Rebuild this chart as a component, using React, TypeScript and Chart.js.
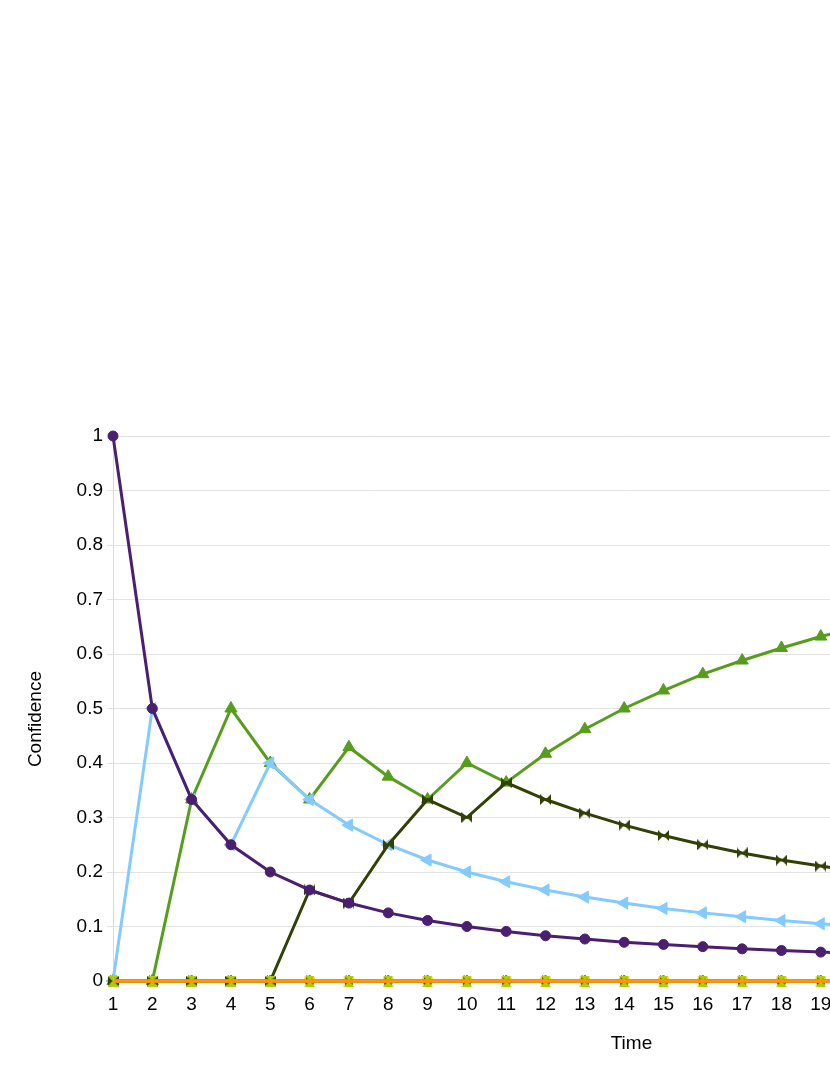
import { useEffect, useRef } from "react";
import { Chart, registerables } from "chart.js";

Chart.register(...registerables);

// Time steps (x values)
const timeSteps = [1, 2, 3, 4, 5, 6, 7, 8, 9, 10, 11, 12, 13, 14, 15, 16, 17, 18, 19, 20];

// Series values
const purpleCircle = [1, 0.5, 0.333, 0.25, 0.2, 0.167, 0.143, 0.125, 0.111, 0.1, 0.091, 0.083, 0.077, 0.071, 0.067, 0.063, 0.059, 0.056, 0.053, 0.05];
const lightBlueArrow = [0, 0.5, 0.333, 0.25, 0.4, 0.333, 0.286, 0.25, 0.222, 0.2, 0.182, 0.167, 0.154, 0.143, 0.133, 0.125, 0.118, 0.111, 0.105, 0.1];
const greenTriangle = [0, 0, 0.333, 0.5, 0.4, 0.333, 0.429, 0.375, 0.333, 0.4, 0.364, 0.417, 0.462, 0.5, 0.533, 0.563, 0.588, 0.611, 0.632, 0.65];
const oliveBowtie = [0, 0, 0, 0, 0, 0.167, 0.143, 0.25, 0.333, 0.3, 0.364, 0.333, 0.308, 0.286, 0.267, 0.25, 0.235, 0.222, 0.211, 0.2];
const zeroSeries = [0, 0, 0, 0, 0, 0, 0, 0, 0, 0, 0, 0, 0, 0, 0, 0, 0, 0, 0, 0];

const FONT = '"Liberation Sans", Arial, sans-serif';
const FONT_SIZE = 19;

function makeMarker(kind: string, color: string, size: number) {
  const c = document.createElement("canvas");
  c.width = size;
  c.height = size;
  const g = c.getContext("2d")!;
  g.fillStyle = color;
  const h = size / 2;
  g.beginPath();
  if (kind === "bowtie") {
    g.moveTo(0, 0);
    g.lineTo(h, h);
    g.lineTo(0, size);
    g.closePath();
    g.moveTo(size, 0);
    g.lineTo(h, h);
    g.lineTo(size, size);
    g.closePath();
  } else {
    g.moveTo(0, 0);
    g.lineTo(size, 0);
    g.lineTo(h, h);
    g.closePath();
    g.moveTo(0, size);
    g.lineTo(size, size);
    g.lineTo(h, h);
    g.closePath();
  }
  g.fill();
  return c;
}

export default function App() {
  const ref = useRef<HTMLCanvasElement>(null);

  useEffect(() => {
    if (!ref.current) return;
    const bowtie = makeMarker("bowtie", "#314004", 11);
    const sandglass = makeMarker("sandglass", "#aecf00", 11);
    const pts = (vals: number[]) => vals.map((v, i) => ({ x: timeSteps[i], y: v }));
    const ds = (label: string, vals: number[], color: string, extra: any) => ({
      label,
      data: pts(vals),
      borderColor: color,
      backgroundColor: color,
      pointBorderColor: color,
      pointBackgroundColor: color,
      borderWidth: 3,
      pointRadius: 5,
      pointBorderWidth: 1,
      tension: 0,
      clip: false,
      ...extra,
    });

    const chart = new Chart(ref.current, {
      type: "line",
      data: {
        datasets: [
          ds("S10", zeroSeries, "#ff950e", { pointRadius: 0, borderWidth: 3.5 }),
          ds("S9", purpleCircle, "#4b1f6f", { pointStyle: "circle", pointRadius: 5 }),
          ds("S8", zeroSeries, "#aecf00", { pointStyle: sandglass }),
          ds("S7", oliveBowtie, "#314004", { pointStyle: bowtie }),
          ds("S6", lightBlueArrow, "#83caff", { pointStyle: "triangle", pointRotation: -90, pointRadius: 7 }),
          ds("S5", zeroSeries, "#7e0021", { pointStyle: "triangle", pointRotation: 90, pointRadius: 6 }),
          ds("S4", greenTriangle, "#579d1c", { pointStyle: "triangle", pointRadius: 7 }),
          ds("S3", zeroSeries, "#ffd320", { pointStyle: "triangle", pointRotation: 180, pointRadius: 6 }),
          ds("S2", zeroSeries, "#ff420e", { pointStyle: "rectRot", pointRadius: 6 }),
          ds("S1", zeroSeries, "#004586", { pointStyle: "rect", pointRadius: 5 }),
        ],
      },
      options: {
        animation: false,
        responsive: false,
        layout: { padding: { top: 428, left: 0, right: 8, bottom: 0 } },
        plugins: {
          legend: { display: false },
          tooltip: { enabled: false },
        },
        scales: {
          x: {
            type: "linear",
            min: 1,
            max: 27.37,
            grid: { display: false, drawTicks: false },
            border: { display: false },
            ticks: {
              stepSize: 1,
              includeBounds: false,
              autoSkip: false,
              maxRotation: 0,
              padding: 12,
              color: "#000",
              font: { family: FONT, size: FONT_SIZE },
            },
            title: {
              display: true,
              text: "Time",
              color: "#000",
              font: { family: FONT, size: FONT_SIZE },
              padding: { top: 0, bottom: 12 },
            },
            afterFit: (s: any) => {
              s.height = 86;
            },
          },
          y: {
            min: 0,
            max: 1,
            grid: { color: "#e3e3e3", tickLength: 6, lineWidth: 1 },
            border: { color: "#d9d9d9" },
            ticks: {
              stepSize: 0.1,
              padding: 4,
              color: "#000",
              font: { family: FONT, size: FONT_SIZE },
              callback: (v: any) => String(Math.round(Number(v) * 10) / 10),
            },
            title: {
              display: true,
              text: "Confidence    ",
              color: "#000",
              font: { family: FONT, size: FONT_SIZE },
              padding: { top: 16, bottom: 0 },
            },
            afterFit: (s: any) => {
              s.width = 105;
            },
          },
        },
      },
    });
    return () => chart.destroy();
  }, []);

  return (
    <div
      style={{
        position: "fixed",
        left: 8,
        top: 8,
        width: 822,
        height: 1059,
        overflow: "hidden",
      }}
    >
      <canvas ref={ref} width={1150} height={1059} style={{ display: "block" }} />
    </div>
  );
}
